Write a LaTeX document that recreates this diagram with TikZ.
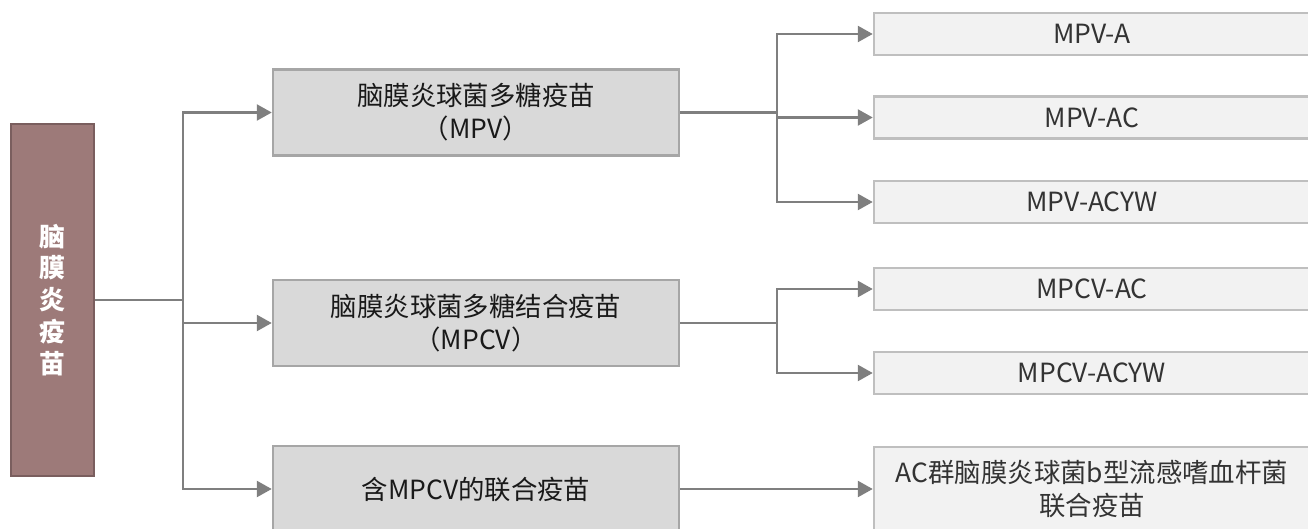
\documentclass[tikz,border=0pt]{standalone}
\usepackage{fontspec}
\setmainfont{Noto Sans CJK SC}
\usetikzlibrary{arrows.meta}
\definecolor{rootfill}{RGB}{157,122,121}
\definecolor{rootline}{RGB}{122,94,94}
\definecolor{midfill}{RGB}{217,217,217}
\definecolor{midline}{RGB}{166,166,166}
\definecolor{leaffill}{RGB}{242,242,242}
\definecolor{leafline}{RGB}{191,191,191}
\definecolor{conn}{RGB}{127,127,127}
\tikzset{
  rootbox/.style={draw=rootline, fill=rootfill, line width=2.5bp, minimum width=83bp, minimum height=352bp, inner sep=0pt, text=white, align=center, font=\bfseries\fontsize{26}{32}\selectfont},
  midbox/.style={draw=midline, fill=midfill, line width=2.5bp, minimum width=406bp, minimum height=86bp, inner sep=0pt, text=black!90, align=center, font=\fontsize{26.5}{33}\selectfont},
  leafbox/.style={draw=leafline, fill=leaffill, line width=2.5bp, minimum width=436bp, minimum height=42bp, inner sep=0pt, text=black!80, align=center, font=\fontsize{26.5}{33}\selectfont},
  conline/.style={draw=conn, line width=2.5bp},
  arr/.style={conline, -{Triangle[length=15bp,width=16bp]}}
}
\begin{document}
\begin{tikzpicture}[x=1bp,y=-1bp]
\useasboundingbox (0,0) rectangle (1308,529);
\node[rootbox] (root) at (52.5,300) {脑\\膜\\炎\\疫\\苗};
\node[midbox] (mpv) at (476,112.5) {脑膜炎球菌多糖疫苗\\（MPV）};
\node[midbox] (mpcv) at (476,323) {脑膜炎球菌多糖结合疫苗\\（MPCV）};
\node[midbox] (comb) at (476,489) {含MPCV的联合疫苗};
\node[leafbox] (a1) at (1092,34) {MPV-A};
\node[leafbox] (a2) at (1092,117.5) {MPV-AC};
\node[leafbox] (a3) at (1092,202) {MPV-ACYW};
\node[leafbox] (b1) at (1092,289) {MPCV-AC};
\node[leafbox] (b2) at (1092,373) {MPCV-ACYW};
\node[leafbox, minimum height=84bp] (c1) at (1092,489) {AC群脑膜炎球菌b型流感嗜血杆菌\\联合疫苗};
\coordinate (j0) at (183,300);
\coordinate (j1) at (777,112.5);
\coordinate (j2) at (777,323);
\draw[conline] (root.east) -- (j0);
\draw[arr] (j0) |- (mpv.west);
\draw[arr] (j0) |- (mpcv.west);
\draw[arr] (j0) |- (comb.west);
\draw[conline] (mpv.east) -- (j1);
\draw[arr] (j1) |- (a1.west);
\draw[arr] (j1) |- (a2.west);
\draw[arr] (j1) |- (a3.west);
\draw[conline] (mpcv.east) -- (j2);
\draw[arr] (j2) |- (b1.west);
\draw[arr] (j2) |- (b2.west);
\draw[arr] (comb.east) -- (c1.west);
\end{tikzpicture}
\end{document}
